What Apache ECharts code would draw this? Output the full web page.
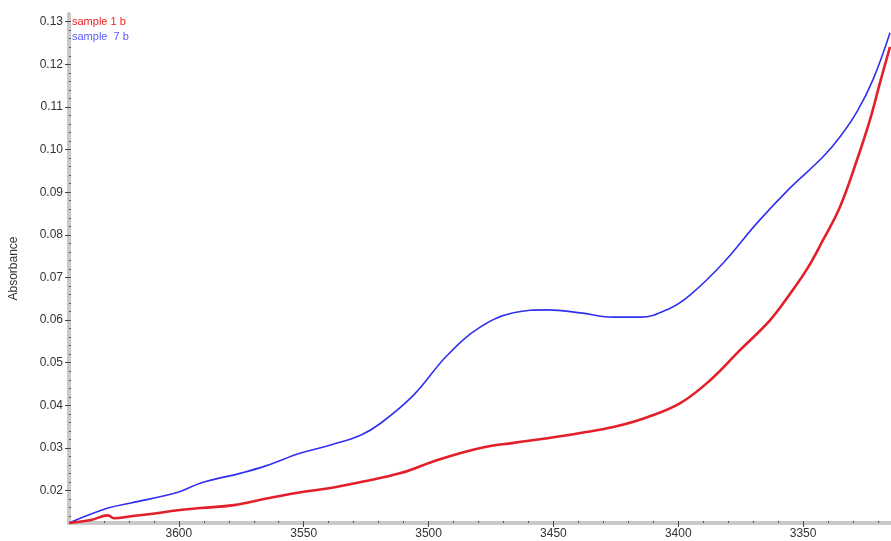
<!DOCTYPE html>
<html>
<head>
<meta charset="utf-8">
<script src="https://cdn.jsdelivr.net/npm/echarts@6/dist/echarts.min.js"></script>
<style>
  html, body { margin: 0; padding: 0; background: #fff; }
  #main { width: 891px; height: 541px; }
</style>
</head>
<body>
<div id="main"></div>
<script>
// wavenumbers (cm-1) and absorbance
const sample1Wn = [3644, 3635.2, 3628.4, 3626, 3619.2, 3611.2, 3600.4, 3591.2, 3578, 3564.4, 3551.2,
    3539.2, 3527.2, 3511.2, 3496.4, 3479.2, 3466, 3452.4, 3439.2, 3426, 3412.4, 3399.2, 3387.2,
    3375.2, 3363.2, 3355.2, 3348.4, 3342, 3335.2, 3328.4, 3323.2, 3319.2, 3315.2];
const sample1Abs = [0.0124, 0.0131, 0.0142, 0.0135, 0.0140, 0.0145, 0.0154, 0.0159, 0.0166, 0.0182, 0.0196,
    0.0206, 0.0220, 0.0241, 0.0272, 0.0300, 0.0312, 0.0323, 0.0335, 0.0349, 0.0372, 0.0405, 0.0459,
    0.0530, 0.0600, 0.0662, 0.0720, 0.0788, 0.0866, 0.0976, 0.1070, 0.1157, 0.1241];

const sample7Wn = [3644, 3628.4, 3619.2, 3600.4, 3591.2, 3575.2, 3565.2, 3551.2, 3539.2, 3527.2, 3519.2,
    3506, 3492.4, 3479.2, 3466, 3452.4, 3439.2, 3426, 3415.2, 3403.2, 3395.2, 3382, 3368.4,
    3355.2, 3342, 3335.2, 3328.4, 3322, 3315.2];
const sample7Abs = [0.0124, 0.0159, 0.0171, 0.0196, 0.0218, 0.0241, 0.0258, 0.0288, 0.0307, 0.0330, 0.0358,
    0.0424, 0.0518, 0.0584, 0.0617, 0.0624, 0.0617, 0.0607, 0.0607, 0.0628, 0.0659, 0.0734, 0.0828,
    0.0910, 0.0983, 0.1030, 0.1089, 0.1164, 0.1274];

const xTickLabels = [3600, 3550, 3500, 3450, 3400, 3350];
const yTickLabels = [0.02, 0.03, 0.04, 0.05, 0.06, 0.07, 0.08, 0.09, 0.10, 0.11, 0.12, 0.13];

const xMin = 3314.8, xMax = 3644;
const yMin = 0.0124, yMax = 0.1318;

const xMinor = [];
for (let v = 3320; v <= 3640; v += 10) xMinor.push(v);
const yMinor = [];
for (let i = 7; i <= 65; i++) yMinor.push(i * 0.002);

const myChart = echarts.init(document.getElementById('main'));

const axisGray = '#c8c8c8';
const fontName = 'Liberation Sans, Arial, sans-serif';
const labelStyle = { color: '#333', fontSize: 12, fontFamily: fontName };

let option = {
    animation: false,
    grid: { left: 67, right: 0, top: 14, bottom: 18 },
    legend: {
        orient: 'vertical',
        left: 62,
        top: 11,
        itemWidth: 0,
        itemHeight: 0,
        itemGap: 4,
        selectedMode: false,
        textStyle: { fontSize: 11, fontFamily: fontName },
        data: [
            { name: 'sample 1 b', icon: 'none', textStyle: { color: '#f21d1d' } },
            { name: 'sample  7 b', icon: 'none', textStyle: { color: '#5a5aff' } }
        ]
    },
    xAxis: [
        {
            type: 'value', inverse: true, min: xMin, max: xMax,
            axisLine: { lineStyle: { color: axisGray, width: 4 } },
            axisTick: { customValues: xTickLabels, length: 4, lineStyle: { color: '#444' } },
            axisLabel: { customValues: xTickLabels, margin: 5, ...labelStyle, formatter: v => String(v) },
            splitLine: { show: false }
        },
        {
            type: 'value', inverse: true, min: xMin, max: xMax, position: 'bottom',
            axisLine: { show: false },
            axisTick: { customValues: xMinor, inside: true, length: 2, lineStyle: { color: '#555' } },
            axisLabel: { show: false },
            splitLine: { show: false }
        }
    ],
    yAxis: [
        {
            type: 'value', min: yMin, max: yMax,
            name: 'Absorbance', nameLocation: 'middle', nameGap: 49,
            nameTextStyle: { color: '#333', fontSize: 12, fontFamily: fontName },
            axisLine: { show: true, lineStyle: { color: axisGray, width: 4 } },
            axisTick: { show: true, customValues: yTickLabels, length: 4, lineStyle: { color: '#444' } },
            axisLabel: {
                customValues: yTickLabels, margin: 6, ...labelStyle,
                formatter: v => v.toFixed(2)
            },
            splitLine: { show: false }
        },
        {
            type: 'value', min: yMin, max: yMax, position: 'left',
            axisLine: { show: false },
            axisTick: { show: true, customValues: yMinor, inside: true, length: 2, lineStyle: { color: '#555' } },
            axisLabel: { show: false },
            splitLine: { show: false }
        }
    ],
    series: [
        {
            name: 'sample  7 b',
            type: 'line',
            showSymbol: false,
            smooth: 0.4,
            color: '#3030ee',
            lineStyle: { width: 1.6, color: '#3030ee' },
            data: sample7Wn.map((w, i) => [w, sample7Abs[i]])
        },
        {
            name: 'sample 1 b',
            type: 'line',
            showSymbol: false,
            smooth: 0.4,
            color: '#e3202a',
            lineStyle: { width: 2.6, color: '#e3202a' },
            data: sample1Wn.map((w, i) => [w, sample1Abs[i]])
        }
    ]
};

myChart.setOption(option);
</script>
</body>
</html>
